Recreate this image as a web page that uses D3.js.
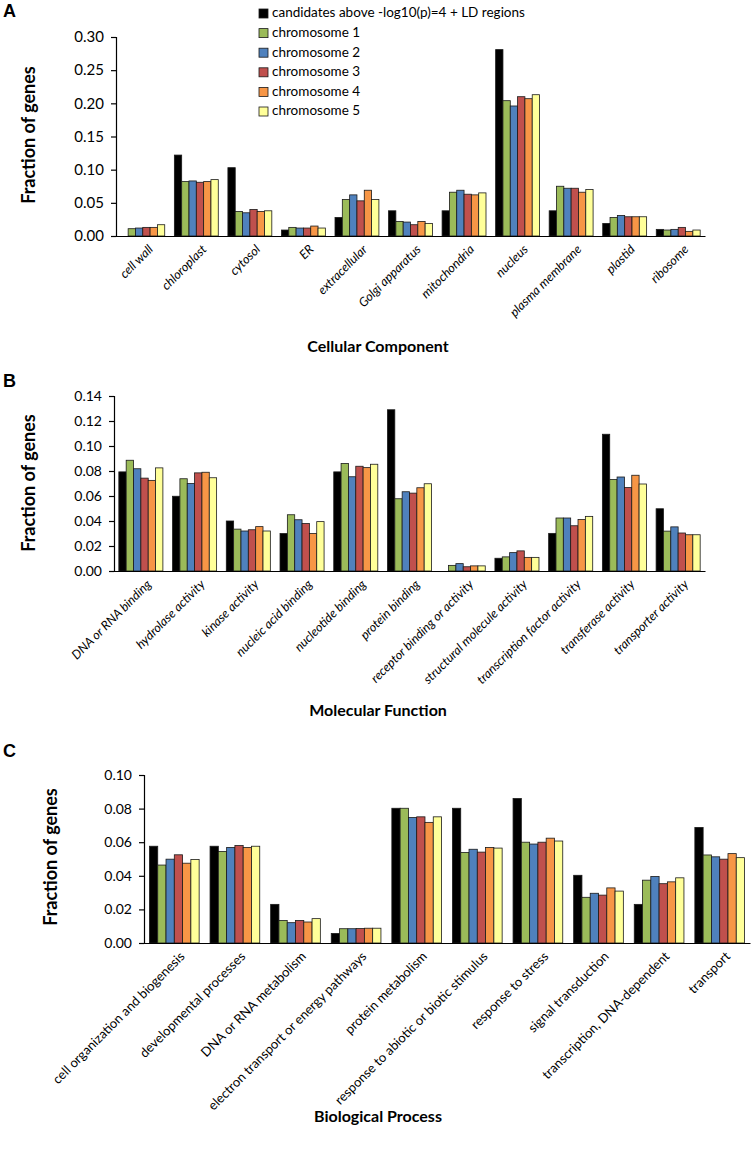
<!DOCTYPE html>
<html>
<head>
<meta charset="utf-8">
<script src="https://cdn.jsdelivr.net/npm/d3@7"></script>
<style>
  html, body { margin: 0; padding: 0; background: #fff; }
  svg { display: block; }
  text { font-family: Lato, "Open Sans", sans-serif; fill: #000; }
</style>
</head>
<body>
<svg id="chart" width="753" height="1160"></svg>
<script>
// ---------- Data ----------
const seriesNames = ["candidates above -log10(p)=4 + LD regions", "chromosome 1", "chromosome 2", "chromosome 3", "chromosome 4", "chromosome 5"];
const seriesColors = ["#000000", "#9BBB59", "#4F81BD", "#C0504D", "#F79646", "#FFFF99"];

// Panel A: Cellular Component
const ccCategories = ["cell wall", "chloroplast", "cytosol", "ER", "extracellular", "Golgi apparatus", "mitochondria", "nucleus", "plasma membrane", "plastid", "ribosome"];
const ccCandidates = [0.000, 0.122, 0.103, 0.009, 0.028, 0.038, 0.038, 0.281, 0.038, 0.019, 0.010];
const ccChr1 = [0.011, 0.082, 0.037, 0.013, 0.055, 0.022, 0.066, 0.204, 0.075, 0.028, 0.009];
const ccChr2 = [0.012, 0.083, 0.035, 0.012, 0.062, 0.021, 0.069, 0.196, 0.072, 0.031, 0.010];
const ccChr3 = [0.013, 0.081, 0.040, 0.012, 0.053, 0.017, 0.063, 0.210, 0.072, 0.029, 0.013];
const ccChr4 = [0.013, 0.082, 0.037, 0.015, 0.069, 0.022, 0.062, 0.207, 0.066, 0.029, 0.007];
const ccChr5 = [0.017, 0.085, 0.038, 0.012, 0.055, 0.019, 0.065, 0.213, 0.070, 0.029, 0.009];
const ccTicks = [0.00, 0.05, 0.10, 0.15, 0.20, 0.25, 0.30];

// Panel B: Molecular Function
const mfCategories = ["DNA or RNA binding", "hydrolase activity", "kinase activity", "nucleic acid binding", "nucleotide binding", "protein binding", "receptor binding or activity", "structural molecule activity", "transcription factor activity", "transferase activity", "transporter activity"];
const mfCandidates = [0.0793, 0.0598, 0.0400, 0.0300, 0.0793, 0.1290, 0.0000, 0.0102, 0.0301, 0.1094, 0.0498];
const mfChr1 = [0.0886, 0.0738, 0.0335, 0.0450, 0.0860, 0.0578, 0.0045, 0.0113, 0.0424, 0.0732, 0.0319];
const mfChr2 = [0.0818, 0.0700, 0.0320, 0.0410, 0.0754, 0.0634, 0.0059, 0.0147, 0.0424, 0.0752, 0.0353];
const mfChr3 = [0.0743, 0.0785, 0.0330, 0.0380, 0.0838, 0.0623, 0.0034, 0.0161, 0.0362, 0.0668, 0.0304];
const mfChr4 = [0.0725, 0.0790, 0.0355, 0.0300, 0.0827, 0.0666, 0.0041, 0.0109, 0.0412, 0.0766, 0.0290];
const mfChr5 = [0.0825, 0.0746, 0.0320, 0.0395, 0.0854, 0.0698, 0.0041, 0.0109, 0.0437, 0.0696, 0.0290];
const mfTicks = [0.00, 0.02, 0.04, 0.06, 0.08, 0.10, 0.12, 0.14];

// Panel C: Biological Process
const bpCategories = ["cell organization and biogenesis", "developmental processes", "DNA or RNA metabolism", "electron transport or energy pathways", "protein metabolism", "response to abiotic or biotic stimulus", "response to stress", "signal transduction", "transcription, DNA-dependent", "transport"];
const bpCandidates = [0.0576, 0.0576, 0.0230, 0.0057, 0.0802, 0.0802, 0.0860, 0.0403, 0.0230, 0.0688];
const bpChr1 = [0.0464, 0.0545, 0.0134, 0.0085, 0.0802, 0.0539, 0.0600, 0.0272, 0.0374, 0.0524];
const bpChr2 = [0.0499, 0.0569, 0.0121, 0.0085, 0.0747, 0.0558, 0.0589, 0.0296, 0.0396, 0.0513];
const bpChr3 = [0.0525, 0.0580, 0.0134, 0.0086, 0.0751, 0.0541, 0.0600, 0.0285, 0.0353, 0.0499];
const bpChr4 = [0.0475, 0.0569, 0.0125, 0.0088, 0.0718, 0.0569, 0.0624, 0.0328, 0.0364, 0.0532];
const bpChr5 = [0.0497, 0.0576, 0.0145, 0.0088, 0.0751, 0.0565, 0.0607, 0.0309, 0.0388, 0.0508];
const bpTicks = [0.00, 0.02, 0.04, 0.06, 0.08, 0.10];

// ---------- Drawing ----------
const svg = d3.select("#chart");

function drawPanel(cfg) {
  const series = cfg.series;
  const g = svg.append("g");

  const x = d3.scaleBand().domain(cfg.categories).range([cfg.left, cfg.right]).paddingInner(0.18).paddingOuter(0.09);
  const xs = d3.scaleBand().domain(d3.range(series.length)).range([0, x.bandwidth()]);
  const y = d3.scaleLinear().domain([0, cfg.ticks[cfg.ticks.length - 1]]).range([cfg.bottom, cfg.top]);

  // bars
  cfg.categories.forEach((cat, ci) => {
    series.forEach((vals, si) => {
      const v = vals[ci];
      if (v <= 0) return;
      g.append("rect")
        .attr("x", x(cat) + xs(si))
        .attr("y", y(v))
        .attr("width", xs.bandwidth())
        .attr("height", y(0) - y(v))
        .attr("fill", seriesColors[si])
        .attr("stroke", "#1a1a1a")
        .attr("stroke-width", 0.8);
    });
  });

  // y axis
  const yAxis = d3.axisLeft(y).tickValues(cfg.ticks).tickFormat(d3.format(".2f")).tickSizeOuter(0).tickSize(5).tickPadding(7);
  const ya = g.append("g").attr("transform", `translate(${cfg.left},0)`).call(yAxis);
  ya.select(".domain").attr("stroke", "#000").attr("stroke-width", 1.2);
  ya.selectAll(".tick line").attr("stroke", "#000").attr("stroke-width", 1.2);
  ya.selectAll(".tick text").style("font-size", cfg.tickFont + "px").style("font-family", "Lato, sans-serif").attr("fill", "#000");

  // x axis
  const xAxis = d3.axisBottom(x).tickSize(0).tickSizeOuter(0).tickPadding(0);
  const xa = g.append("g").attr("transform", `translate(0,${cfg.bottom})`).call(xAxis);
  xa.select(".domain").attr("stroke", "#000").attr("stroke-width", 1.2);
  xa.selectAll(".tick text")
    .attr("text-anchor", "end")
    .attr("transform", "translate(" + cfg.labelDx + "," + cfg.labelDy + ") rotate(-45)")
    .attr("y", 0).attr("dy", "0.35em")
    .style("font-size", cfg.labelFont + "px")
    .style("font-style", cfg.italic ? "italic" : "normal")
    .style("font-family", "Lato, sans-serif")
    .attr("fill", "#000");

  // y title
  g.append("text")
    .attr("transform", `translate(${cfg.yTitleX},${cfg.yTitleY}) rotate(-90)`)
    .attr("text-anchor", "middle")
    .attr("dominant-baseline", "middle")
    .style("font-size", "18px").style("font-weight", "bold")
    .text("Fraction of genes");

  // x title
  g.append("text")
    .attr("x", 378).attr("y", cfg.xTitleY)
    .attr("text-anchor", "middle")
    .attr("dominant-baseline", "middle")
    .style("font-size", "16px").style("font-weight", "bold")
    .text(cfg.xTitle);

  // panel letter
  g.append("text")
    .attr("x", 3).attr("y", cfg.letterY)
    .attr("dominant-baseline", "middle")
    .style("font-family", "'Liberation Sans', Arial, sans-serif")
    .style("font-size", "18px").style("font-weight", "bold")
    .text(cfg.letter);
}

drawPanel({
  letter: "A", letterY: 12,
  categories: ccCategories,
  series: [ccCandidates, ccChr1, ccChr2, ccChr3, ccChr4, ccChr5],
  ticks: ccTicks,
  left: 116, right: 705, top: 37, bottom: 236,
  tickFont: 15, labelFont: 12.5, italic: true, labelDx: 8, labelDy: 11,
  yTitleX: 30, yTitleY: 135,
  xTitle: "Cellular Component", xTitleY: 348
});

drawPanel({
  letter: "B", letterY: 382,
  categories: mfCategories,
  series: [mfCandidates, mfChr1, mfChr2, mfChr3, mfChr4, mfChr5],
  ticks: mfTicks,
  left: 114, right: 705, top: 396, bottom: 571,
  tickFont: 14, labelFont: 12.5, italic: true, labelDx: 8, labelDy: 11,
  yTitleX: 30, yTitleY: 483,
  xTitle: "Molecular Function", xTitleY: 712
});

drawPanel({
  letter: "C", letterY: 752,
  categories: bpCategories,
  series: [bpCandidates, bpChr1, bpChr2, bpChr3, bpChr4, bpChr5],
  ticks: bpTicks,
  left: 144, right: 750, top: 775, bottom: 943,
  tickFont: 14, labelFont: 13, italic: false, labelDx: 8, labelDy: 11,
  yTitleX: 52, yTitleY: 857,
  xTitle: "Biological Process", xTitleY: 1118
});

// legend
const legend = svg.append("g").attr("transform", "translate(259,0)");
const legendY = d3.scalePoint().domain(seriesNames).range([14, 112]);
seriesNames.forEach((name, i) => {
  const yy = legendY(name);
  legend.append("rect")
    .attr("x", 0).attr("y", yy - 5)
    .attr("width", 9).attr("height", 9)
    .attr("fill", seriesColors[i])
    .attr("stroke", "#1a1a1a").attr("stroke-width", 0.8);
  legend.append("text")
    .attr("x", 13).attr("y", yy)
    .attr("dominant-baseline", "middle")
    .style("font-size", "13.5px")
    .text(name);
});
</script>
</body>
</html>
